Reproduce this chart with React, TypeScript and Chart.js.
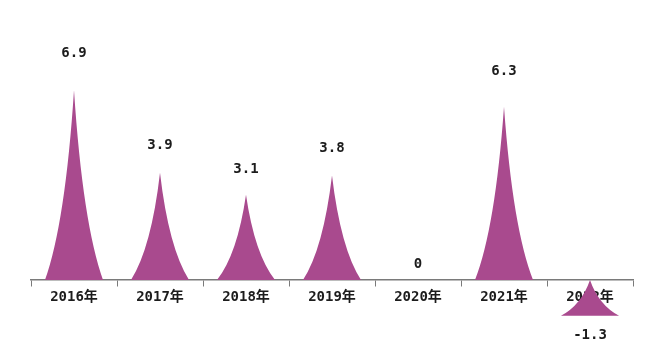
import React, { useEffect, useRef } from "react";
import { Chart, registerables } from "chart.js";

Chart.register(...registerables);

const categories: string[] = ["2016年", "2017年", "2018年", "2019年", "2020年", "2021年", "2022年"];
const values: number[] = [6.9, 3.9, 3.1, 3.8, 0, 6.3, -1.3];
const valueLabels: string[] = ["6.9", "3.9", "3.1", "3.8", "0", "6.3", "-1.3"];

const FILL = "#A94A8E";
const TEXT = "#1c1c1c";
const FONT_FAMILY = '"DejaVu Sans Mono", "Noto Sans CJK SC", monospace';

const spikePlugin = {
  id: "spikes",
  afterDatasetsDraw(chart: any) {
    const ctx = chart.ctx;
    const meta = chart.getDatasetMeta(0);
    ctx.save();
    meta.data.forEach((bar: any, i: number) => {
      const v = values[i];
      const props = bar.getProps(["x", "y", "base", "width"], true);
      const cx = props.x;
      const hw = props.width / 2;
      const a = 0.3;
      const b = 0.3;
      if (v !== 0) {
        // flat side at the base (positive) or at the value end (negative)
        const baseY = v > 0 ? props.base : props.y;
        const tipY = v > 0 ? props.y : props.base;
        const h = baseY - tipY;
        ctx.beginPath();
        ctx.moveTo(cx - hw, baseY);
        ctx.quadraticCurveTo(cx - a * hw, baseY - b * h, cx, tipY);
        ctx.quadraticCurveTo(cx + a * hw, baseY - b * h, cx + hw, baseY);
        ctx.closePath();
        ctx.fillStyle = FILL;
        ctx.fill();
      }
      ctx.fillStyle = TEXT;
      ctx.font = "bold 14px " + FONT_FAMILY;
      ctx.textAlign = "center";
      ctx.textBaseline = "middle";
      let ly: number;
      if (v > 0) ly = props.y - (16 + 3 * v);
      else if (v === 0) ly = props.base - 16;
      else ly = props.y + 20;
      ctx.fillText(valueLabels[i], cx, ly);
    });
    ctx.restore();
  },
};

export default function App() {
  const canvasRef = useRef<HTMLCanvasElement | null>(null);

  useEffect(() => {
    if (!canvasRef.current) return;
    const chart = new Chart(canvasRef.current, {
      type: "bar",
      data: {
        labels: categories,
        datasets: [
          {
            data: values,
            backgroundColor: "rgba(0,0,0,0)",
            borderWidth: 0,
            categoryPercentage: 1,
            barPercentage: 0.675,
          },
        ],
      },
      options: {
        responsive: false,
        animation: false,
        events: [],
        layout: { padding: { left: 31, right: 34, top: 0, bottom: 0 } },
        plugins: {
          legend: { display: false },
          tooltip: { enabled: false },
          title: { display: false },
        },
        scales: {
          x: {
            position: { y: 0 },
            grid: {
              display: true,
              drawOnChartArea: false,
              drawTicks: true,
              tickLength: 6,
              color: "#7a7a7a",
              offset: true,
            },
            border: { display: true, color: "#7a7a7a", width: 1.5 },
            ticks: {
              color: TEXT,
              font: { family: FONT_FAMILY, size: 14, weight: "bold" },
              padding: 3,
              maxRotation: 0,
            },
          },
          y: {
            display: false,
            min: -2.945,
            max: 10.18,
          },
        },
      },
      plugins: [spikePlugin],
    });
    return () => chart.destroy();
  }, []);

  return (
    <div style={{ position: "fixed", left: 0, top: 0, width: 667, height: 361, background: "#fff" }}>
      <canvas ref={canvasRef} width={667} height={361} style={{ display: "block" }} />
    </div>
  );
}
